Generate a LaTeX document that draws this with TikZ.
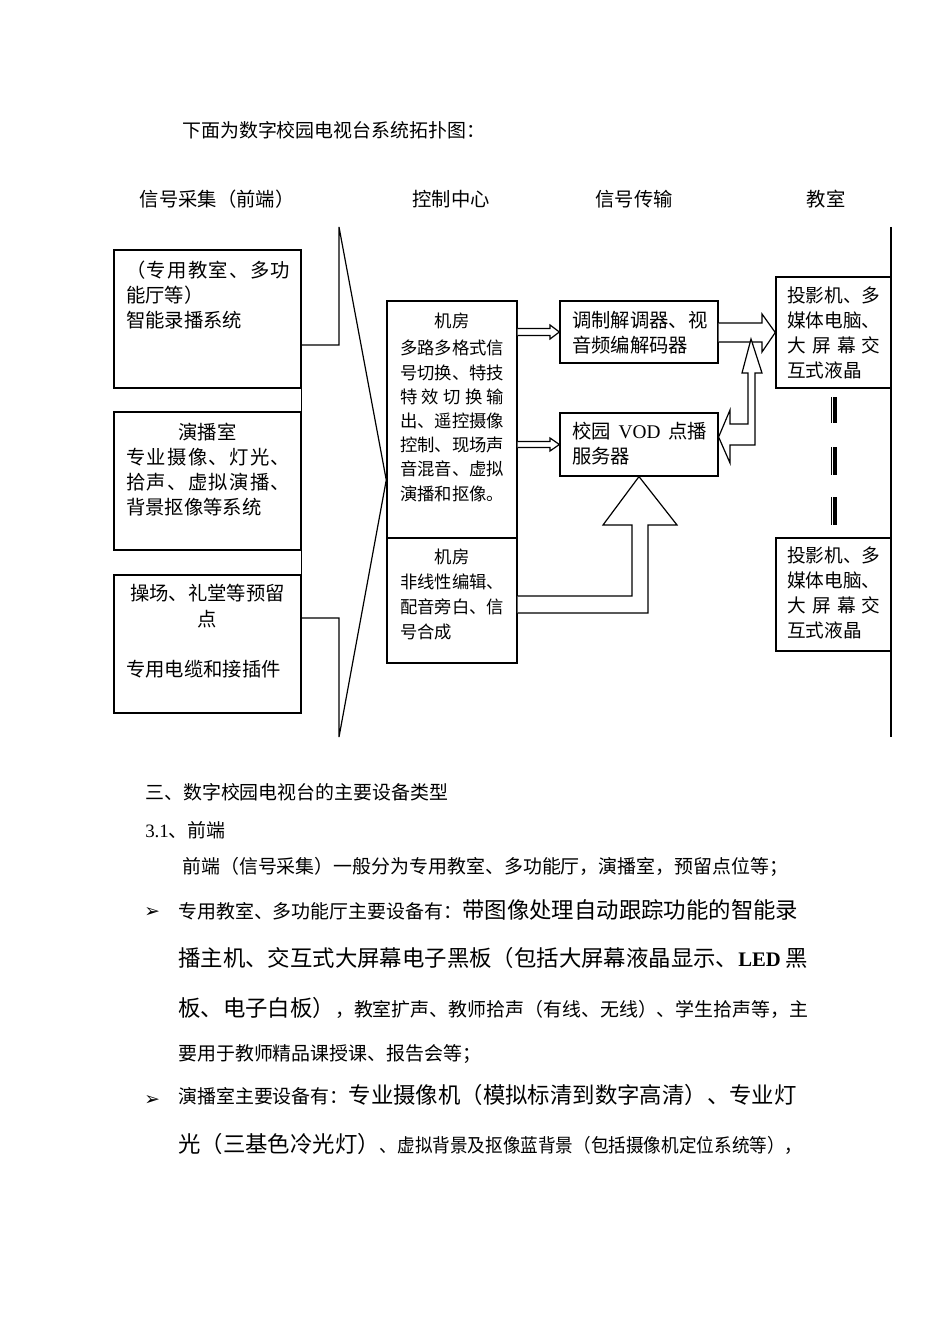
\documentclass[tikz,border=0pt]{standalone}
\usepackage{fontspec}
\usepackage{graphicx}
\setmainfont{Liberation Serif}
\newfontfamily\cjk{Noto Sans CJK SC}
\newfontfamily\dingfont{DejaVu Sans}
\usetikzlibrary{calc}
\newcommand\bigtxt[1]{{\fontsize{16.8}{20}\selectfont #1}}
\tikzset{
  ubox/.style={draw, line width=0.9pt, inner sep=0pt},
  tleft/.style={inner sep=0pt, anchor=base west, align=left},
  tcen/.style={inner sep=0pt, anchor=base},
  fA/.style={font=\cjk\fontsize{14.5}{18.75}\selectfont},
  fB/.style={font=\cjk\fontsize{13}{18.15}\selectfont},
  fD/.style={font=\cjk\fontsize{14}{18.75}\selectfont},
  fS/.style={font=\cjk\fontsize{14.2}{17}\selectfont},
  hol/.style={draw, line width=0.9pt, fill=white, line join=miter},
  wire/.style={draw, line width=0.9pt},
}
\begin{document}
\begin{tikzpicture}[x=0.75pt,y=-0.75pt]
\useasboundingbox (0,0) rectangle (950,1344);

% title and column heads
\node[tleft,fS] (title) at (182,138) {下面为数字校园电视台系统拓扑图：};
\node[tcen,fA] (h1) at (217,207) {信号采集（前端）};
\node[tcen,fA] (h2) at (451,207) {控制中心};
\node[tcen,fA] (h3) at (634,207) {信号传输};
\node[tcen,fA] (h4) at (826,207) {教室};

% boxes
\node[ubox, minimum width=140.25pt, minimum height=103.5pt] (a) at (207.5,319) {};
\node[ubox, minimum width=140.25pt, minimum height=103.5pt] (b) at (207.5,481) {};
\node[ubox, minimum width=140.25pt, minimum height=103.5pt] (c) at (207.5,644) {};
\node[ubox, line width=1.1pt, minimum width=97.5pt, minimum height=177.75pt] (ct) at (452,419.5) {};
\node[ubox, line width=1.1pt, minimum width=97.5pt, minimum height=93.75pt] (cb) at (452,600.5) {};
\node[ubox, minimum width=118.5pt, minimum height=46.5pt] (mod) at (639,332) {};
\node[ubox, minimum width=118.5pt, minimum height=47.25pt] (vod) at (639,444.5) {};
\node[ubox, line width=1.1pt, minimum width=86.25pt, minimum height=83.25pt] (d1) at (833.5,332.5) {};
\node[ubox, line width=1.1pt, minimum width=86.25pt, minimum height=84.75pt] (d2) at (833.5,594.5) {};

% box texts (base anchor of a multi-line node = baseline of its last line)
\node[tleft,fA] (ta) at (126,327) {\makebox[123pt][s]{（\hfil 专\hfil 用\hfil 教\hfil 室\hfil 、\hfil 多\hfil 功}\\能厅等）\\智能录播系统};
\node[tcen,fA] (tb1) at (207.5,439) {演播室};
\node[tleft,fA] (tb2) at (126,514) {\makebox[123pt][s]{专\hfil 业\hfil 摄\hfil 像\hfil 、\hfil 灯\hfil 光\hfil 、}\\\makebox[123pt][s]{拾\hfil 声\hfil 、\hfil 虚\hfil 拟\hfil 演\hfil 播\hfil 、}\\背景抠像等系统};
\node[tcen,fA] (tc1) at (207.5,600) {操场、礼堂等预留};
\node[tcen,fA] (tc2) at (207.5,626) {点};
\node[tleft,fA] (tc3) at (126,676) {专用电缆和接插件};

\node[tcen,fB] (tt1) at (452,327) {机房};
\node[tleft,fB] (tt2) at (400,500) {多路多格式信\\号切换、特技\\\makebox[78pt][s]{特\hfil 效\hfil 切\hfil 换\hfil 输}\\出、遥控摄像\\控制、现场声\\音混音、虚拟\\演播和抠像。};
\node[tcen,fB] (tu1) at (452,563) {机房};
\node[tleft,font=\cjk\fontsize{13}{18.5}\selectfont] (tu2) at (400,638) {非线性编辑、\\配音旁白、信\\号合成};

\node[tleft,fA] (tm) at (572,352) {调制解调器、视\\音频编解码器};
\node[tleft,fA] (tv) at (572,463) {\makebox[101pt][s]{校园\hfil{\rmfamily VOD}\hfil 点播}\\服务器};

\node[tleft,fD] (td1) at (787,377.5) {投影机、多\\媒体电脑、\\\makebox[70pt][s]{大\hfil 屏\hfil 幕\hfil 交}\\互式液晶};
\node[tleft,fD] (td2) at (787,637) {投影机、多\\媒体电脑、\\\makebox[70pt][s]{大\hfil 屏\hfil 幕\hfil 交}\\互式液晶};

% left connectors and brace
\coordinate (bt) at (339,227);
\coordinate (bb) at (339,737);
\draw[wire] (a.south east) -- (b.north east) (b.south east) -- (c.north east);
\draw[wire, line join=miter] (a.east |- 0,345) -| (bt) -- (ct.west |- 0,480) -- (bb) |- (c.east |- 0,618);

% right boundary line
\coordinate (rt) at (891,227);
\coordinate (rb) at (891,737);
\draw[wire] (rt) -- (rb);

% dashed double bars
\foreach \ya/\yb in {397/423, 447/475, 497/525} {
  \draw[line width=4.5pt] (833.5,\ya) -- (833.5,\yb);
  \draw[white, line width=0.7pt] (832.8,\ya) -- (832.8,\yb);
}

% hollow arrows
\draw[hol] (ct.east |- 0,328.5) -- (550,328.5) -- (550,325) -- (mod.west) -- (550,339) -- (550,335.5) -- (ct.east |- 0,335.5);
\draw[hol] (ct.east |- 0,441.5) -- (550,441.5) -- (550,438) -- (vod.west) -- (550,451) -- (550,447.5) -- (ct.east |- 0,447.5);
\draw[hol] (cb.east |- 0,596) -- (632,596) -- (632,525) -- (603,525) -- (vod.south) -- (677,525) -- (648,525) -- (648,613) -- (cb.east |- 0,613);
\draw[hol] (mod.east |- 0,323) -- (762,323) -- (762,314) -- (d1.west) -- (762,352) -- (762,342) -- (mod.east |- 0,342);
\draw[hol] (vod.east |- 0,437) -- (730,410) -- (730,424) -- (748,424) -- (748,373) -- (742,373) -- (751,339) -- (762,373) -- (755,373) -- (755,445) -- (730,445) -- (730,463) -- cycle;

% body text
\node[tleft,fS] (p1) at (145,799) {三、数字校园电视台的主要设备类型};
\node[tleft,fS] (p2) at (145,837) {{\rmfamily 3.1}、前端};
\node[tleft,fS] (p3) at (182,873) {前端（信号采集）一般分为专用教室、多功能厅，演播室，预留点位等；};
\node[tleft,font=\dingfont\fontsize{14}{15}\selectfont] (bu1) at (144,917) {➢};
\node[tleft,fS] (p4) at (178,918) {专用教室、多功能厅主要设备有：\bigtxt{带图像处理自动跟踪功能的智能录}};
\node[tleft,fS] (p5) at (178,966) {\bigtxt{播主机、交互式大屏幕电子黑板（包括大屏幕液晶显示、}{\rmfamily\bfseries\fontsize{15.5}{17}\selectfont LED\ }\bigtxt{黑}};
\node[tleft,fS] (p6) at (178,1016) {\bigtxt{板、电子白板）}，教室扩声、教师拾声（有线、无线）、学生拾声等，主};
\node[tleft,fS] (p7) at (178,1060) {要用于教师精品课授课、报告会等；};
\node[tleft,font=\dingfont\fontsize{14}{15}\selectfont] (bu2) at (144,1105) {➢};
\node[tleft,fS] (p8) at (178,1103) {演播室主要设备有：\bigtxt{专业摄像机（模拟标清到数字高清）、专业灯}};
\node[tleft,fS] (p9) at (178,1152) {\bigtxt{光（三基色冷光灯）}\scalebox{0.93}[1]{、虚拟背景及抠像蓝背景（包括摄像机定位系统等），}};
\end{tikzpicture}
\end{document}
